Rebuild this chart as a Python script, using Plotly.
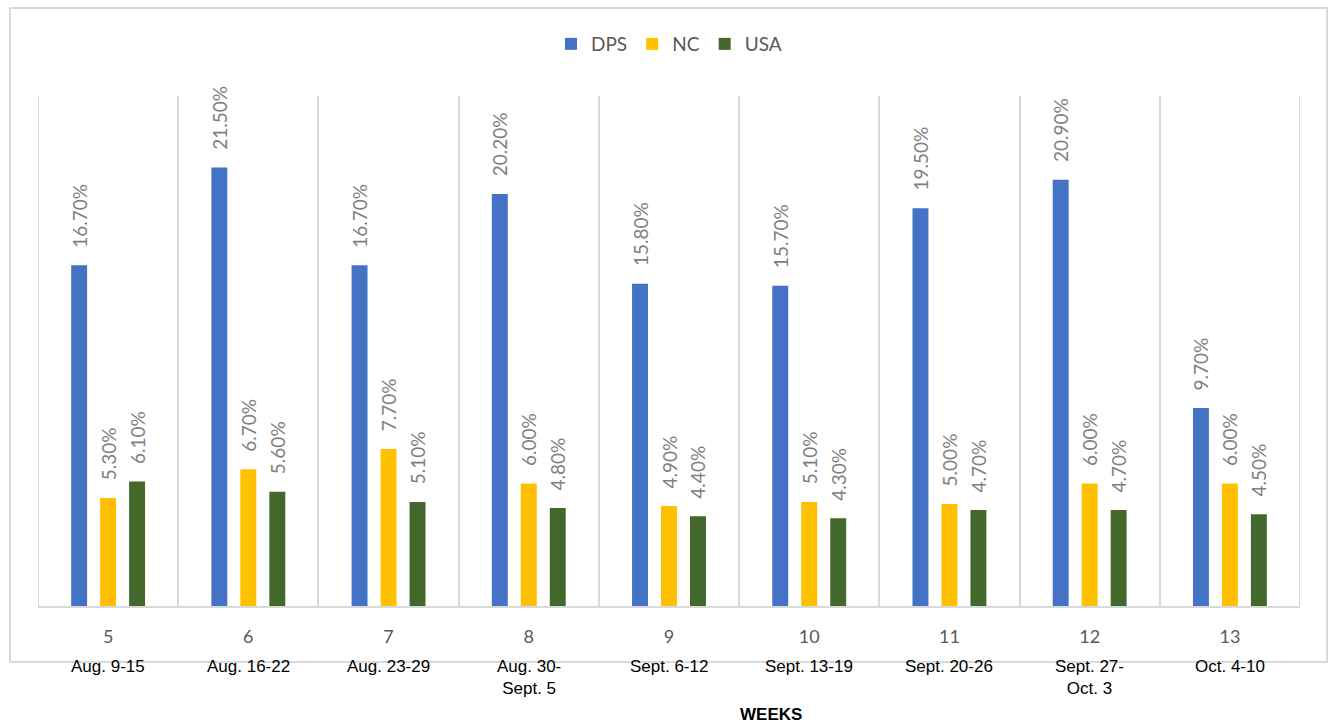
import plotly.graph_objects as go

weeks = ["5", "6", "7", "8", "9", "10", "11", "12", "13"]
dates = ["Aug. 9-15", "Aug. 16-22", "Aug. 23-29", "Aug. 30-<br>Sept. 5", "Sept. 6-12",
         "Sept. 13-19", "Sept. 20-26", "Sept. 27-<br>Oct. 3", "Oct. 4-10"]
dps = [16.7, 21.5, 16.7, 20.2, 15.8, 15.7, 19.5, 20.9, 9.7]
nc = [5.3, 6.7, 7.7, 6.0, 4.9, 5.1, 5.0, 6.0, 6.0]
usa = [6.1, 5.6, 5.1, 4.8, 4.4, 4.3, 4.7, 4.7, 4.5]

series = [("DPS", dps, "#4472C4"), ("NC", nc, "#FFC000"), ("USA", usa, "#43682B")]

fig = go.Figure()
for name, vals, col in series:
    fig.add_trace(go.Bar(
        x=weeks, y=vals, name=name, marker=dict(color=col, line=dict(width=0)),
        texttemplate="\u00a0\u00a0\u00a0%{y:.2f}%", textposition="outside", textangle=-90,
        constraintext="none",
        textfont=dict(family="Lato", size=19, color="#808080"),
        cliponaxis=False,
    ))

H0, H1 = 96, 606
def py(pix):
    return (H1 - pix) / (H1 - H0)

L, R = 38, 1300
def px(pix):
    return (pix - L) / (R - L)

annotations = []
for i, d in enumerate(dates):
    annotations.append(dict(x=i, y=py(655), xref="x", yref="paper", text=d, showarrow=False,
                            yanchor="top", xanchor="center",
                            font=dict(family="Liberation Sans", size=17, color="#000000")))
annotations.append(dict(x=px(771), y=py(714), xref="paper", yref="paper", text="<b>WEEKS</b>",
                        showarrow=False, yanchor="middle", xanchor="center",
                        font=dict(family="Liberation Sans", size=17, color="#000000")))

n = len(weeks)
shapes = [dict(type="rect", xref="paper", yref="paper",
               x0=px(10), x1=px(1327), y0=py(662), y1=py(8),
               line=dict(color="#D9D9D9", width=2), fillcolor="rgba(0,0,0,0)", layer="below")]
for xe in (-0.5, n - 0.5):
    shapes.append(dict(type="line", xref="x", yref="y", x0=xe, x1=xe, y0=0, y1=25,
                       line=dict(color="#D9D9D9", width=2), layer="below"))

fig.update_layout(
    width=1335, height=724,
    margin=dict(l=L, r=1335 - R, t=H0, b=724 - H1),
    paper_bgcolor="white", plot_bgcolor="white",
    barmode="group", bargap=0.38, bargroupgap=0.45,
    showlegend=True,
    legend=dict(orientation="h", x=0.5, xanchor="center", y=py(44), yanchor="middle",
                font=dict(family="Lato", size=19, color="#595959"),
                itemwidth=30, traceorder="normal"),
    xaxis=dict(type="category", range=[-0.5, n - 0.5], tickson="boundaries",
               showgrid=True, gridcolor="#D9D9D9",
               gridwidth=2, showline=True, linecolor="#D9D9D9", linewidth=2,
               ticks="", ticklabelstandoff=13,
               tickfont=dict(family="Lato", size=18, color="#595959")),
    yaxis=dict(range=[0, 25], visible=False, showgrid=False, zeroline=False),
    annotations=annotations,
    shapes=shapes,
)

fig.write_html("out.html")
